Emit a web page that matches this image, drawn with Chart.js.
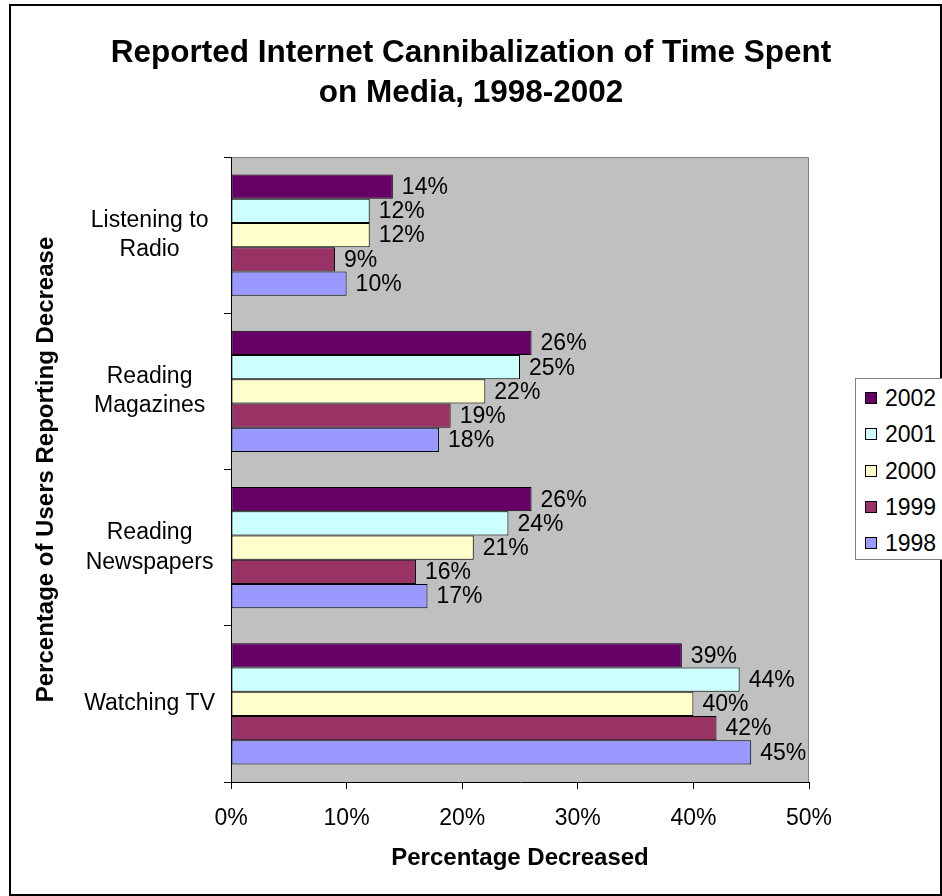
<!DOCTYPE html>
<html>
<head>
<meta charset="utf-8">
<title>Reported Internet Cannibalization of Time Spent on Media</title>
<script src="https://cdn.jsdelivr.net/npm/chart.js@4.4.1/dist/chart.umd.min.js"></script>
<style>
  body { margin: 0; background: #fff; }
  #wrap { position: relative; width: 942px; height: 896px; overflow: hidden; font-family: "Liberation Sans", Arial, sans-serif; }
  #frame { position: absolute; left: 9px; top: 4px; width: 933px; height: 892px; border: 2px solid #000; box-sizing: border-box; }
  #chart { position: absolute; left: 0; top: 0; }
  #legend { position: absolute; left: 855px; top: 378px; width: 120px; height: 182px; border: 1px solid #808080; box-sizing: border-box; background: #fff; padding-top: 1px; }
  .item { height: 36.3px; line-height: 36.3px; font-size: 23px; color: #000; white-space: nowrap; }
  .swatch { display: inline-block; width: 12px; height: 12px; border: 1px solid #000; box-sizing: border-box; margin-left: 9px; margin-right: 8px; vertical-align: middle; position: relative; top: -2px; }
</style>
</head>
<body>
<div id="wrap">
  <div id="frame"></div>
  <canvas id="chart" width="942" height="896"></canvas>
  <div id="legend"></div>
</div>
<script>
// --- DATA ---
const categories = [
    ['Listening to', 'Radio'],
    ['Reading', 'Magazines'],
    ['Reading', 'Newspapers'],
    'Watching TV'
];
const years = ['2002', '2001', '2000', '1999', '1998'];
const values2002 = [14, 26, 26, 39];
const values2001 = [12, 25, 24, 44];
const values2000 = [12, 22, 21, 40];
const values1999 = [9, 19, 16, 42];
const values1998 = [10, 18, 17, 45];
const xTicks = [0, 10, 20, 30, 40, 50];

const seriesValues = [values2002, values2001, values2000, values1999, values1998];
const seriesColors = ['#660066', '#CCFFFF', '#FFFFCC', '#993366', '#9999FF'];

const FONT = '"Liberation Sans", Arial, sans-serif';

// --- PLUGINS ---
const plotBackground = {
    id: 'plotBackground',
    beforeDraw(chart) {
        const { ctx, chartArea: a } = chart;
        ctx.save();
        ctx.fillStyle = '#C0C0C0';
        ctx.fillRect(a.left, a.top, a.right - a.left, a.bottom - a.top);
        ctx.strokeStyle = '#808080';
        ctx.lineWidth = 1;
        ctx.beginPath();
        ctx.moveTo(a.left, a.top + 0.5);
        ctx.lineTo(a.right - 0.5, a.top + 0.5);
        ctx.lineTo(a.right - 0.5, a.bottom);
        ctx.stroke();
        ctx.restore();
    }
};

const barLabels = {
    id: 'barLabels',
    afterDatasetsDraw(chart) {
        const ctx = chart.ctx;
        ctx.save();
        ctx.font = '23px ' + FONT;
        ctx.fillStyle = '#000';
        ctx.textAlign = 'left';
        ctx.textBaseline = 'middle';
        chart.data.datasets.forEach((ds, i) => {
            chart.getDatasetMeta(i).data.forEach((bar, j) => {
                ctx.fillText(ds.data[j] + '%', bar.x + 9, bar.y + 1);
            });
        });
        ctx.restore();
    }
};

const htmlLegend = {
    id: 'htmlLegend',
    afterUpdate(chart) {
        const box = document.getElementById('legend');
        box.innerHTML = '';
        chart.data.datasets.forEach(ds => {
            const row = document.createElement('div');
            row.className = 'item';
            const sw = document.createElement('span');
            sw.className = 'swatch';
            sw.style.background = ds.backgroundColor;
            row.appendChild(sw);
            row.appendChild(document.createTextNode(ds.label));
            box.appendChild(row);
        });
    }
};

// --- CHART ---
new Chart(document.getElementById('chart'), {
    type: 'bar',
    data: {
        labels: categories,
        datasets: years.map((y, i) => ({
            label: y,
            data: seriesValues[i],
            backgroundColor: seriesColors[i],
            borderColor: '#000',
            borderWidth: 1,
            borderSkipped: false,
            barPercentage: 1,
            categoryPercentage: 0.775
        }))
    },
    options: {
        indexAxis: 'y',
        responsive: false,
        animation: false,
        layout: { padding: 0 },
        plugins: {
            legend: { display: false },
            tooltip: { enabled: false },
            title: {
                display: true,
                text: ['Reported Internet Cannibalization of Time Spent', 'on Media, 1998-2002'],
                color: '#000',
                font: { family: FONT, size: 31.5, weight: 'bold', lineHeight: 1.27 },
                padding: { top: 33.5, bottom: 43.5 }
            }
        },
        scales: {
            x: {
                type: 'linear',
                min: 0,
                max: 50,
                afterBuildTicks: s => { s.ticks = xTicks.map(v => ({ value: v })); },
                ticks: {
                    color: '#000',
                    font: { family: FONT, size: 23 },
                    padding: 16,
                    callback: v => v + '%'
                },
                grid: { drawOnChartArea: false, drawTicks: true, tickLength: 7, color: '#000' },
                border: { color: '#000', width: 1 },
                title: {
                    display: true,
                    text: 'Percentage Decreased',
                    color: '#000',
                    font: { family: FONT, size: 24, weight: 'bold' },
                    padding: { top: 0, bottom: 23 }
                },
                afterFit: s => { s.height = 114; }
            },
            y: {
                type: 'category',
                ticks: {
                    color: '#000',
                    font: { family: FONT, size: 23, lineHeight: 1.27 },
                    crossAlign: 'center',
                    padding: 9
                },
                grid: { drawOnChartArea: false, drawTicks: true, tickLength: 7, color: '#000', offset: true },
                border: { color: '#000', width: 1 },
                title: {
                    display: true,
                    text: 'Percentage of Users Reporting Decrease',
                    color: '#000',
                    font: { family: FONT, size: 24, weight: 'bold' },
                    padding: { top: 32, bottom: 0 }
                },
                afterFit: s => { s.width = 231; }
            },
            // empty right-hand axis: keeps room for the legend box
            yRight: {
                type: 'linear',
                position: 'right',
                min: 0,
                max: 1,
                grid: { display: false },
                ticks: { display: false },
                border: { display: false },
                afterFit: s => { s.width = 133; }
            }
        }
    },
    plugins: [plotBackground, barLabels, htmlLegend]
});
</script>
</body>
</html>
